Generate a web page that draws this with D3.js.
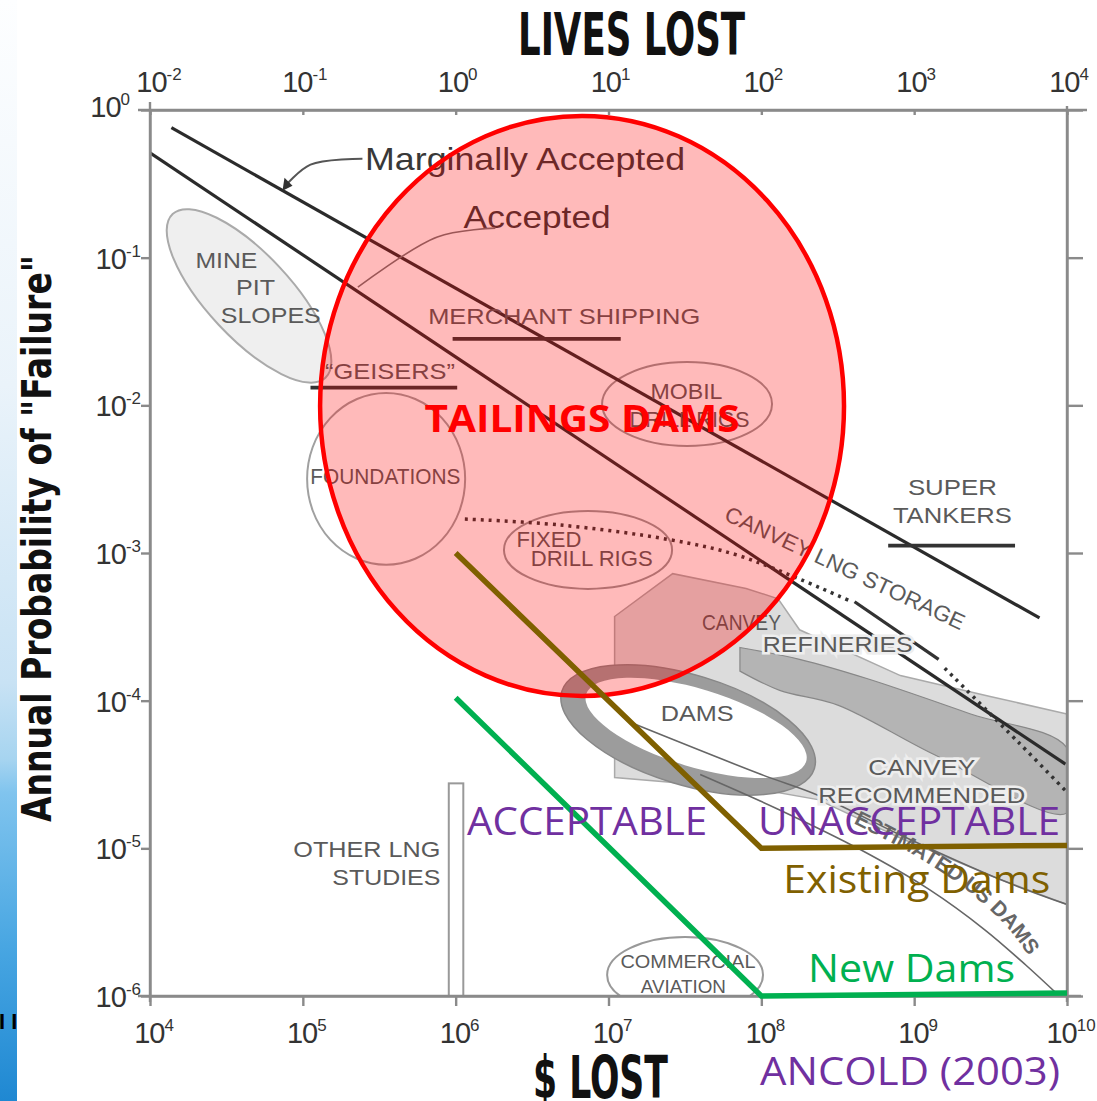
<!DOCTYPE html>
<html>
<head>
<meta charset="utf-8">
<script src="https://cdn.jsdelivr.net/npm/d3@7"></script>
<style>
  body { margin: 0; background: #fff; }
  svg { display: block; }
</style>
</head>
<body>
<svg id="chart" width="1097" height="1101"></svg>
<script>
// all points are [log10 $ lost, log10 annual probability]
const dollarExp = [4, 5, 6, 7, 8, 9, 10];
const livesExp = [-2, -1, 0, 1, 2, 3, 4];
const probExp = [0, -1, -2, -3, -4, -5, -6];

const marginalLine = [[4.14, -0.12], [9.82, -3.44]];
const acceptedLine = [[4.0, -0.29], [9.99, -4.43]];
const existingDams = [[6, -3], [8, -5], [10, -4.98]];
const newDams = [[6, -3.98], [8, -6], [10, -5.98]];

const lngDotted1 = [[6.06, -2.77], [6.68, -2.81], [7.40, -2.91], [7.86, -3.02], [8.57, -3.32]];
const lngSolid = [[8.61, -3.33], [9.16, -3.72]];
const lngDotted2 = [[9.20, -3.78], [9.69, -4.29], [10.0, -4.62]];

// horizontal bars: [from, to, probability]
const hBars = [
  [5.98, 7.08, -1.55], // merchant shipping
  [5.05, 6.01, -1.88], // geisers
  [8.83, 9.66, -2.95]  // super tankers
];
const otherLng = [5.955, 6.05, -4.56];

const lightBand = [[7.04, -3.43], [7.42, -3.14], [7.90, -3.24], [8.11, -3.31], [8.25, -3.52],
  [8.91, -3.83], [9.49, -3.97], [10.0, -4.09], [10.0, -5.38], [9.56, -5.21], [8.91, -4.93],
  [8.37, -4.67], [7.99, -4.60], [7.60, -4.57], [7.04, -4.52]];
const midBand = [[7.86, -3.64], [8.25, -3.72], [8.69, -3.85], [9.37, -4.09], [10.0, -4.32],
  [10.0, -4.76], [9.14, -4.37], [8.50, -4.03], [8.12, -3.93], [7.86, -3.80]];
const damsLine = [[7.15, -4.15], [8.0, -4.50], [8.37, -4.64], [8.91, -4.91], [9.56, -5.21], [10.0, -5.38]];
const usDamsCurve = [[7.60, -4.50], [8.12, -4.74], [8.65, -5.01], [9.10, -5.28], [9.46, -5.55], [9.73, -5.79], [9.96, -6.01]];
const usDamsText = [[8.58, -4.82], [8.99, -5.04], [9.34, -5.28], [9.62, -5.55], [9.83, -5.86], [9.92, -6.03]];

// regions: centre, half spans in decades, tilt
const tailings = { c: [6.827, -2.004], r: [1.714, 1.964] };
const minePit = { c: [4.648, -1.259], r: [0.733, 0.284], rot: 47 };
const foundations = { c: [5.545, -2.498], r: [0.517, 0.582] };
const mobil = { c: [7.514, -1.991], r: [0.556, 0.284] };
const fixedRigs = { c: [6.866, -2.979], r: [0.550, 0.264] };
const damsRing = { c: [7.521, -4.198], r: [0.864, 0.372], rot: 17 };
const aviation = { c: [7.501, -5.857], r: [0.510, 0.257] };

const grayLabels = [
  { t: "MINE", at: [4.50, -1.07], w: 62 },
  { t: "PIT", at: [4.69, -1.25], w: 39 },
  { t: "SLOPES", at: [4.79, -1.44], w: 100 },
  { t: "MERCHANT SHIPPING", at: [6.71, -1.45], w: 272 },
  { t: "\u201CGEISERS\u201D", at: [5.57, -1.82], w: 130 },
  { t: "FOUNDATIONS", at: [5.54, -2.53], w: 150 },
  { t: "MOBIL", at: [7.51, -1.96], w: 72 },
  { t: "DRILL RIGS", at: [7.53, -2.15], w: 120 },
  { t: "FIXED", at: [6.61, -2.96], w: 65 },
  { t: "DRILL RIGS", at: [6.89, -3.09], w: 122 },
  { t: "CANVEY", at: [7.87, -3.52], w: 79 },
  { t: "REFINERIES", at: [8.50, -3.67], w: 150, halo: true },
  { t: "DAMS", at: [7.58, -4.14], w: 73 },
  { t: "SUPER", at: [9.25, -2.61], w: 89 },
  { t: "TANKERS", at: [9.25, -2.80], w: 119 },
  { t: "CANVEY", at: [9.05, -4.50], w: 107, halo: true },
  { t: "RECOMMENDED", at: [9.05, -4.69], w: 207, halo: true },
  { t: "OTHER LNG", at: [5.90, -5.06], w: 147, anchor: "end" },
  { t: "STUDIES", at: [5.90, -5.25], w: 108, anchor: "end" },
  { t: "COMMERCIAL", at: [7.52, -5.81], w: 135, size: 18 },
  { t: "AVIATION", at: [7.49, -5.98], w: 85, size: 18 }
];

const svg = d3.select("#chart");
const W = 1097, H = 1101;

const sx = d3.scaleLog().domain([1e4, 1e10]).range([150, 1067]);
const sLives = d3.scaleLog().domain([1e-2, 1e4]).range([150, 1067]);
const sy = d3.scaleLog().domain([1, 1e-6]).range([110, 996]);
const X = e => sx(Math.pow(10, e));
const Y = e => sy(Math.pow(10, e));
const decX = X(5) - X(4), decY = Y(-1) - Y(0);
const line = d3.line().x(d => X(d[0])).y(d => Y(d[1]));
const smooth = d3.line().x(d => X(d[0])).y(d => Y(d[1])).curve(d3.curveCatmullRom);

// left blue strip
const defs = svg.append("defs");
const grad = defs.append("linearGradient").attr("id", "strip").attr("x1", 0).attr("x2", 0).attr("y1", 0).attr("y2", 1);
[[0, "#fdfeff"], [0.35, "#eaf3fa"], [0.62, "#c8e2f4"], [0.69, "#a6d4f0"], [0.72, "#80c4ee"], [0.86, "#48a6e2"], [1, "#1f88d2"]]
  .forEach(s => grad.append("stop").attr("offset", s[0]).attr("stop-color", s[1]));
svg.append("rect").attr("x", 0).attr("y", 0).attr("width", 17).attr("height", H).attr("fill", "url(#strip)");
svg.append("text").attr("x", -1).attr("y", 1029).attr("font-family", "Liberation Sans, Arial")
  .attr("font-size", 22).attr("font-weight", "bold").attr("fill", "#000").text("I I");

defs.append("clipPath").attr("id", "plot").append("rect")
  .attr("x", 150).attr("y", 110).attr("width", 917).attr("height", 886);

const plot = svg.append("g").attr("clip-path", "url(#plot)");

// gray bands
plot.append("path").attr("d", line(lightBand) + "Z").attr("fill", "#dcdcdc").attr("stroke", "#aaa").attr("stroke-width", 1.5);
plot.append("path").attr("d", smooth(midBand) + "Z").attr("fill", "#b4b4b4").attr("stroke", "#888").attr("stroke-width", 1.2);

function ellipse(g, e, fill, stroke, sw) {
  return g.append("ellipse")
    .attr("transform", `translate(${X(e.c[0])},${Y(e.c[1])}) rotate(${e.rot || 0})`)
    .attr("rx", e.r[0] * decX).attr("ry", e.r[1] * decY)
    .attr("fill", fill).attr("stroke", stroke).attr("stroke-width", sw);
}

// dams ring
ellipse(plot, damsRing, "#9c9c9c", "#888", 1.5);
plot.append("ellipse")
  .attr("transform", `translate(${X(damsRing.c[0]) + 8},${Y(damsRing.c[1]) - 2}) rotate(${damsRing.rot})`)
  .attr("rx", damsRing.r[0] * decX - 17).attr("ry", damsRing.r[1] * decY - 16)
  .attr("fill", "#fff");

plot.append("path").attr("d", smooth(damsLine)).attr("fill", "none").attr("stroke", "#666").attr("stroke-width", 1.6);
plot.append("path").attr("d", smooth(usDamsCurve)).attr("fill", "none").attr("stroke", "#666").attr("stroke-width", 1.6);

ellipse(plot, minePit, "#efefef", "#aaa", 2);
ellipse(plot, foundations, "none", "#a0a0a0", 2);
ellipse(plot, mobil, "none", "#999", 2);
ellipse(plot, fixedRigs, "none", "#999", 2);
ellipse(plot, aviation, "none", "#999", 2);

// other LNG studies bar
plot.append("rect").attr("x", X(otherLng[0])).attr("y", Y(otherLng[2]))
  .attr("width", X(otherLng[1]) - X(otherLng[0])).attr("height", sy(1e-6) - Y(otherLng[2]))
  .attr("fill", "#fff").attr("stroke", "#999").attr("stroke-width", 2);

// criterion lines
plot.append("path").attr("d", line(marginalLine)).attr("stroke", "#2b2b2b").attr("stroke-width", 3.2).attr("fill", "none");
plot.append("path").attr("d", line(acceptedLine)).attr("stroke", "#2b2b2b").attr("stroke-width", 3.2).attr("fill", "none");

hBars.forEach(b => {
  plot.append("line").attr("x1", X(b[0])).attr("x2", X(b[1])).attr("y1", Y(b[2])).attr("y2", Y(b[2]))
    .attr("stroke", "#333").attr("stroke-width", 3.6);
});

plot.append("path").attr("d", smooth(lngDotted1)).attr("fill", "none").attr("stroke", "#333")
  .attr("stroke-width", 3.5).attr("stroke-dasharray", "3,5");
plot.append("path").attr("d", line(lngSolid)).attr("fill", "none").attr("stroke", "#333").attr("stroke-width", 3.2);
plot.append("path").attr("d", smooth(lngDotted2)).attr("fill", "none").attr("stroke", "#333")
  .attr("stroke-width", 3.5).attr("stroke-dasharray", "3,5");

// gray labels
const labG = svg.append("g").attr("font-family", "Liberation Sans, Arial, sans-serif").attr("fill", "#5a5a5a");
grayLabels.forEach(l => {
  const t = labG.append("text").attr("x", X(l.at[0])).attr("y", Y(l.at[1]))
    .attr("text-anchor", l.anchor || "middle").attr("font-size", l.size || 22)
    .attr("textLength", l.w).attr("lengthAdjust", "spacingAndGlyphs").text(l.t);
  if (l.halo) t.attr("stroke", "#eeeeee").attr("stroke-width", 5).attr("paint-order", "stroke");
});

// rotated labels
const lngAt = [8.548, -3.101];
labG.append("text").attr("transform", `translate(${X(lngAt[0])},${Y(lngAt[1])}) rotate(25)`)
  .attr("text-anchor", "middle").attr("dy", "0.35em").attr("font-size", 22)
  .attr("textLength", 262).attr("lengthAdjust", "spacingAndGlyphs")
  .attr("stroke", "#fff").attr("stroke-width", 4).attr("paint-order", "stroke")
  .text("CANVEY LNG STORAGE");

defs.append("path").attr("id", "usdams").attr("d", smooth(usDamsText));
labG.append("text").attr("font-size", 21).attr("font-weight", "bold").attr("fill", "#666")
  .append("textPath").attr("href", "#usdams").attr("startOffset", 4)
  .text("ESTIMATED US DAMS");

// marginally accepted / accepted
const annG = svg.append("g").attr("font-family", "Liberation Sans, Arial, sans-serif").attr("fill", "#383838");
const margAt = [6.454, -0.406], accAt = [6.533, -0.799];
annG.append("text").attr("x", X(margAt[0])).attr("y", Y(margAt[1])).attr("text-anchor", "middle")
  .attr("font-size", 32).attr("textLength", 320).attr("lengthAdjust", "spacingAndGlyphs").text("Marginally Accepted");
annG.append("text").attr("x", X(accAt[0])).attr("y", Y(accAt[1])).attr("text-anchor", "middle")
  .attr("font-size", 32).attr("textLength", 147).attr("lengthAdjust", "spacingAndGlyphs").text("Accepted");

const margArrow = [[5.39, -0.33], [5.05, -0.37], [4.88, -0.52]];
const accArrow = [[6.26, -0.80], [5.88, -0.86], [5.36, -1.20]];
svg.append("path").attr("d", smooth(margArrow)).attr("fill", "none").attr("stroke", "#555").attr("stroke-width", 2);
svg.append("path").attr("d", smooth(accArrow)).attr("fill", "none").attr("stroke", "#777").attr("stroke-width", 1.6);
const tip = [X(4.88), Y(-0.52)];
svg.append("path").attr("d", `M${tip[0] - 2},${tip[1] + 4} l2,-13 l8,8 z`).attr("fill", "#333");

// axes
const axisColor = "#8a8a8a";
function styleAxis(g) {
  g.selectAll("path, line").attr("stroke", axisColor).attr("stroke-width", 2.4);
  g.selectAll("text").remove();
}
svg.append("g").attr("transform", `translate(0,${sy(1e-6)})`)
  .call(d3.axisBottom(sx).tickValues(dollarExp.map(e => 10 ** e)).tickSize(10).tickSizeOuter(0)).call(styleAxis);
svg.append("g").attr("transform", `translate(0,${sy(1)})`)
  .call(d3.axisBottom(sLives).tickValues(livesExp.map(e => 10 ** e)).tickSize(5).tickSizeOuter(0)).call(styleAxis);
svg.append("g").attr("transform", `translate(${sx(1e4)},0)`)
  .call(d3.axisLeft(sy).tickValues(probExp.map(e => 10 ** e)).tickSize(9).tickSizeOuter(0)).call(styleAxis);
svg.append("g").attr("transform", `translate(${sx(1e10)},0)`)
  .call(d3.axisRight(sy).tickValues(probExp.map(e => 10 ** e)).tickSize(16).tickSizeOuter(0)).call(styleAxis);
// frame overhangs
[[sx(1e4) - 12, sy(1), sx(1e10) + 20, sy(1)], [sx(1e4) - 12, sy(1e-6), sx(1e10) + 14, sy(1e-6)],
 [sx(1e4), sy(1) - 8, sx(1e4), sy(1e-6) + 6], [sx(1e10), sy(1) - 4, sx(1e10), sy(1e-6) + 6]]
  .forEach(s => svg.append("line").attr("x1", s[0]).attr("y1", s[1]).attr("x2", s[2]).attr("y2", s[3])
    .attr("stroke", axisColor).attr("stroke-width", 2.4));

// tick labels with superscripts
const tickG = svg.append("g").attr("font-family", "Liberation Sans, Arial, sans-serif").attr("fill", "#333");
function powLabel(x, y, e, anchor) {
  const t = tickG.append("text").attr("x", x).attr("y", y).attr("text-anchor", anchor).attr("font-size", 29);
  t.append("tspan").attr("letter-spacing", -1).text("10");
  t.append("tspan").attr("dy", -12).attr("font-size", 17).text(e);
  return t;
}
livesExp.forEach(e => powLabel(sLives(10 ** e) + (e === -2 ? 9 : 2), 92, e, "middle"));
dollarExp.forEach(e => powLabel(sx(10 ** e) + 4, 1043, e, "middle"));
probExp.forEach(e => powLabel(e === 0 ? 130 : 141, sy(10 ** e) + (e === 0 ? 7 : 11), e, "end"));

// axis titles
const titleFont = "Liberation Sans Narrow, DejaVu Sans Condensed, Arial Narrow, sans-serif";
svg.append("text").attr("x", 518).attr("y", 55).attr("font-family", titleFont).attr("font-weight", "bold")
  .attr("font-size", 58).attr("textLength", 227).attr("lengthAdjust", "spacingAndGlyphs").attr("fill", "#111").text("LIVES LOST");
svg.append("text").attr("x", 533).attr("y", 1098).attr("font-family", titleFont).attr("font-weight", "bold")
  .attr("font-size", 58).attr("textLength", 135).attr("lengthAdjust", "spacingAndGlyphs").attr("fill", "#111").text("$ LOST");
svg.append("text").attr("transform", "translate(51,822) rotate(-90)").attr("font-family", titleFont)
  .attr("font-weight", "bold").attr("font-size", 40).attr("textLength", 567).attr("lengthAdjust", "spacingAndGlyphs")
  .attr("fill", "#111").text("Annual Probability of \"Failure\"");

// tailings dams overlay
svg.append("ellipse").attr("cx", X(tailings.c[0])).attr("cy", Y(tailings.c[1]))
  .attr("rx", tailings.r[0] * decX).attr("ry", tailings.r[1] * decY)
  .attr("fill", "#ff0000").attr("fill-opacity", 0.27).attr("stroke", "#ff0000").attr("stroke-width", 4.5);

const overFont = "Open Sans, Lato, sans-serif";
const tailAt = [6.827, -2.18];
svg.append("text").attr("x", X(tailAt[0])).attr("y", Y(tailAt[1])).attr("text-anchor", "middle")
  .attr("font-family", overFont).attr("font-weight", "bold").attr("font-size", 37).attr("fill", "#ff0000")
  .attr("textLength", 315).attr("lengthAdjust", "spacingAndGlyphs").text("TAILINGS DAMS");

svg.append("path").attr("d", line(existingDams)).attr("fill", "none").attr("stroke", "#7f6000").attr("stroke-width", 5.5);
svg.append("path").attr("d", line(newDams)).attr("fill", "none").attr("stroke", "#00b050").attr("stroke-width", 5.5);

const overlays = [
  { t: "ACCEPTABLE", at: [6.075, -4.909], w: 240, c: "#7030a0" },
  { t: "UNACCEPTABLE", at: [7.979, -4.909], w: 302, c: "#7030a0" },
  { t: "Existing Dams", at: [8.143, -5.301], w: 267, c: "#7f6000" },
  { t: "New Dams", at: [8.306, -5.904], w: 207, c: "#00b050" },
  { t: "ANCOLD (2003)", at: [7.992, -6.601], w: 300, c: "#7030a0" }
];
overlays.forEach(o => {
  svg.append("text").attr("x", X(o.at[0])).attr("y", Y(o.at[1])).attr("font-family", overFont)
    .attr("font-size", 38).attr("fill", o.c).attr("textLength", o.w).attr("lengthAdjust", "spacingAndGlyphs").text(o.t);
});
</script>
</body>
</html>
